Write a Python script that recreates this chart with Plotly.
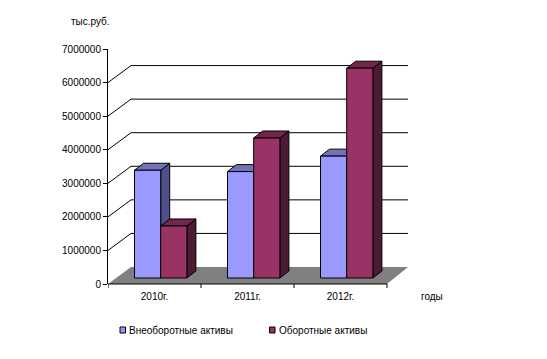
import plotly.graph_objects as go

years = ["2010г.", "2011г.", "2012г."]
noncurrent = [3210000, 3170000, 3630000]
current = [1550000, 4170000, 6250000]
y_ticks = [0, 1000000, 2000000, 3000000, 4000000, 5000000, 6000000, 7000000]
series_names = ["Внеоборотные активы", "Оборотные активы"]

FONT = "Liberation Sans"
W, H = 547, 359
L, R, T, B = 108, 420, 49, 284          # plot box in page pixels
PX_X = 93.0                             # pixels per category
PX_Y = (B - T) / 7000000.0              # pixels per value unit
X0, XN = -0.5, 2.5
X_END = X0 + (R - L) / PX_X

# oblique projection, converted to axis units
BACK_DY = 17 / PX_Y
BACK_DX_L = 23 / PX_X
BACK_DX_R = 21 / PX_X
BAR_BASE = 6 / PX_Y
BAR_DX = 9 / PX_X
BAR_DY = 7 / PX_Y
BAR_W = 26.2 / PX_X
BAR_OFF = -20 / PX_X

fig = go.Figure()


def poly(xs, ys, fill, line="black", width=1, name=None):
    fig.add_trace(go.Scatter(
        x=xs + xs[:1], y=ys + ys[:1], mode="lines", fill="toself", fillcolor=fill,
        line=dict(color=line, width=width), hoverinfo="skip", showlegend=False, name=name))


def seg(xs, ys):
    fig.add_trace(go.Scatter(
        x=xs, y=ys, mode="lines", line=dict(color="black", width=1),
        hoverinfo="skip", showlegend=False))


# floor
poly([X0, XN, XN + BACK_DX_R, X0 + BACK_DX_L], [0, 0, BACK_DY, BACK_DY], "#808080", line="#808080", width=0)

# back wall grid lines with their diagonal links to the axis
for v in y_ticks[1:-1]:
    seg([X0, X0 + BACK_DX_L, XN + BACK_DX_R], [v, v + BACK_DY, v + BACK_DY])


def bar3d(left, width, v, front, side, top, name):
    x1, x2 = left, left + width
    y1, y2 = BAR_BASE, BAR_BASE + v
    poly([x2, x2 + BAR_DX, x2 + BAR_DX, x2], [y1, y1 + BAR_DY, y2 + BAR_DY, y2], side, name=name)
    poly([x1, x2, x2 + BAR_DX, x1 + BAR_DX], [y2, y2, y2 + BAR_DY, y2 + BAR_DY], top, name=name)
    poly([x1, x2, x2, x1], [y1, y1, y2, y2], front, name=name)


for i in range(len(years)):
    left = i + BAR_OFF
    bar3d(left, BAR_W, noncurrent[i], "#9999FF", "#4F4F8C", "#7272B8", series_names[0])
    bar3d(left + BAR_W, BAR_W, current[i], "#993366", "#4D1A33", "#732649", series_names[1])

# category axis line and its boundary ticks (x in axis units, y just below the plot box)
fig.add_shape(type="line", xref="x", yref="paper", x0=X0, x1=XN, y0=0, y1=0,
              line=dict(color="black", width=1))
for i in range(len(years) + 1):
    fig.add_shape(type="line", xref="x", yref="paper", x0=X0 + i, x1=X0 + i,
                  y0=0, y1=-4 / (B - T), line=dict(color="black", width=1))

font = dict(family=FONT, size=10, color="black")
fig.update_layout(
    width=W, height=H, autosize=False,
    margin=dict(l=L, r=W - R, t=T, b=H - B),
    paper_bgcolor="white", plot_bgcolor="white",
    showlegend=False, font=font,
    xaxis=dict(range=[X0, X_END], tickmode="array", tickvals=[0, 1, 2], ticktext=years,
               showgrid=False, zeroline=False, showline=False,
               ticks="outside", ticklen=3, tickcolor="rgba(0,0,0,0)", tickfont=font),
    yaxis=dict(range=[0, 7000000], tickmode="array", tickvals=y_ticks,
               ticktext=[str(v) for v in y_ticks],
               showgrid=False, zeroline=False, showline=True, linecolor="black", linewidth=1,
               ticks="outside", ticklen=4, tickcolor="black", tickwidth=1, tickfont=font),
)


def label(x, y, text, anchor="left"):
    fig.add_annotation(xref="paper", yref="paper", x=(x - L) / (R - L), y=(B - y) / (B - T),
                       text=text, showarrow=False, xanchor=anchor, yanchor="middle",
                       font=font, borderpad=0, borderwidth=0)


label(71, 22, "тыс.руб.")
label(421, 296, "годы")
label(129, 330, series_names[0])
label(279, 330, series_names[1])
for x, c in ((120, "#9999FF"), (269.5, "#993366")):
    fig.add_shape(type="rect", xref="paper", yref="paper",
                  x0=(x - L) / (R - L), x1=(x + 5.5 - L) / (R - L),
                  y0=(B - 333) / (B - T), y1=(B - 327) / (B - T),
                  fillcolor=c, line=dict(color="black", width=1))

fig.write_html("out.html", config=dict(displayModeBar=False),
               post_script="document.body.style.margin='0';")
